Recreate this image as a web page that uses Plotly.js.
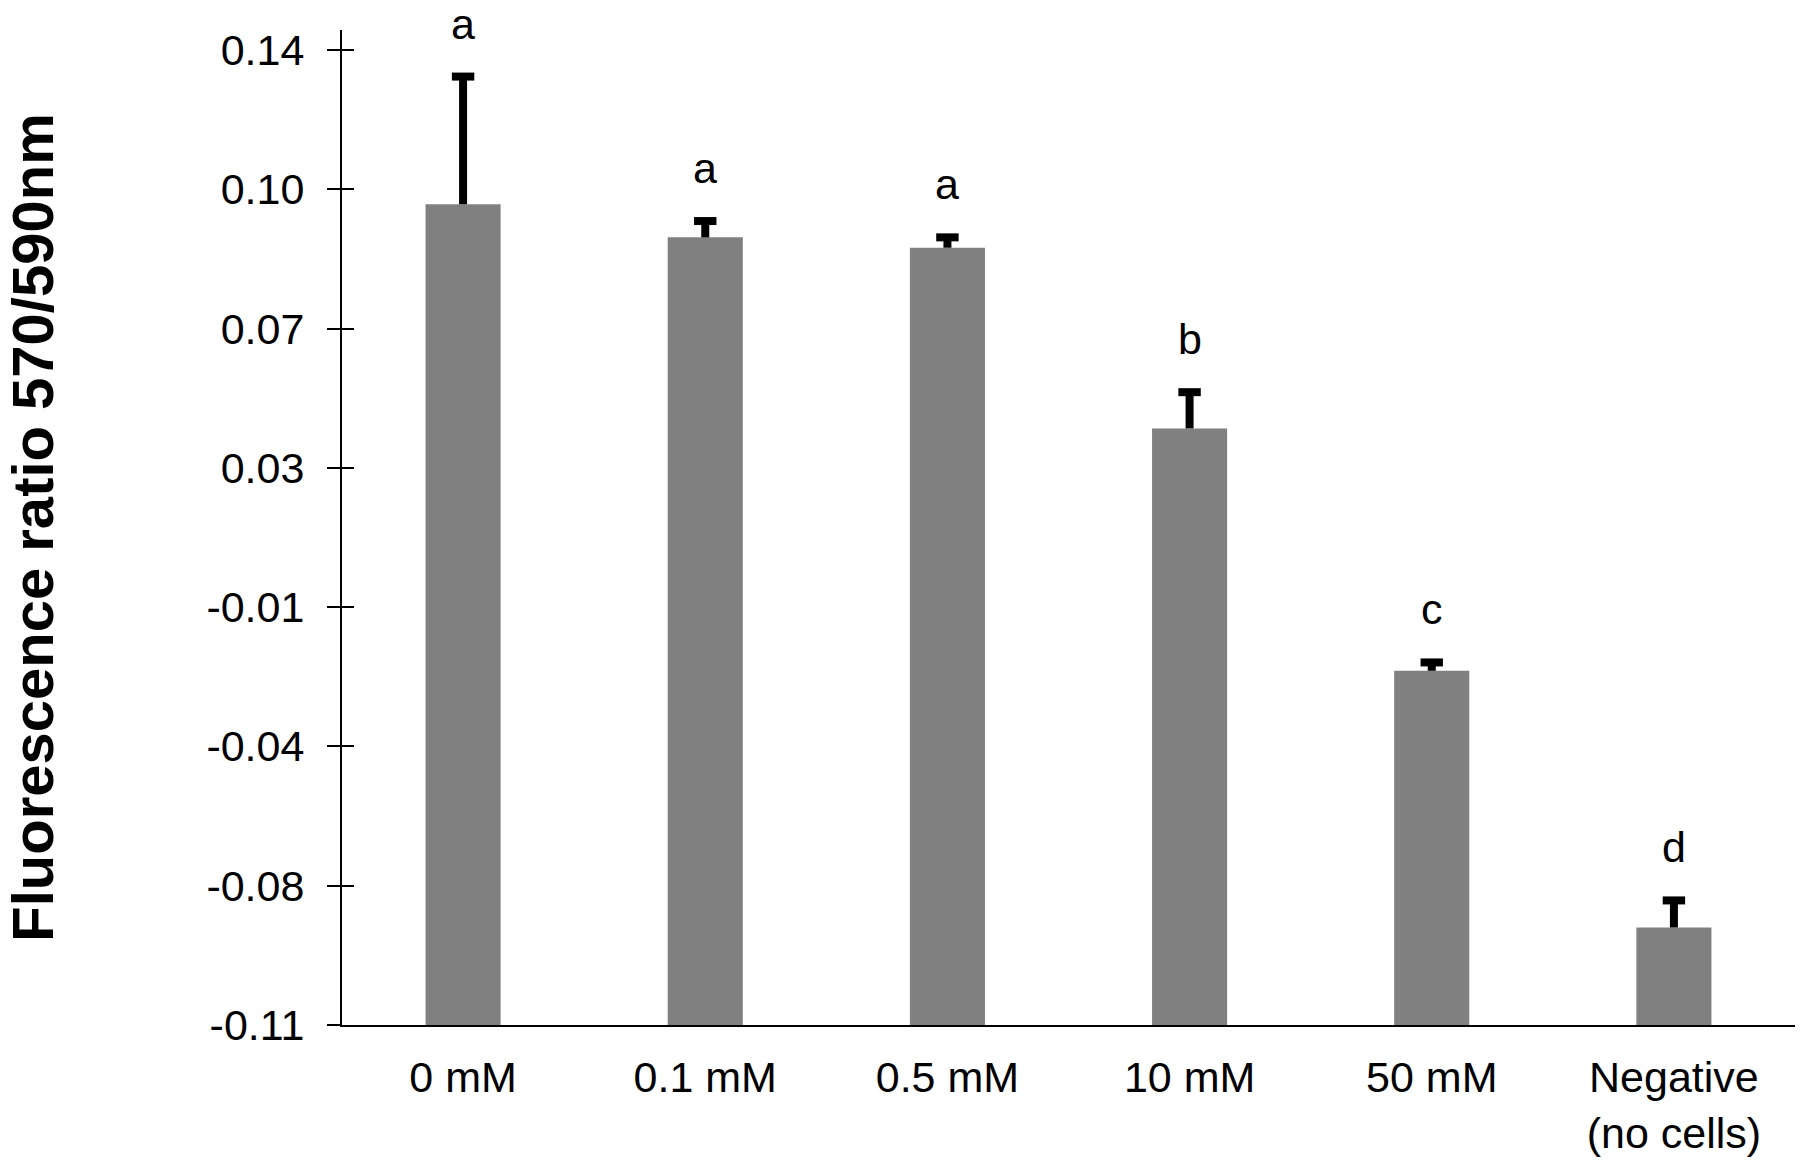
<!DOCTYPE html>
<html>
<head>
<meta charset="utf-8">
<script src="https://cdn.plot.ly/plotly-3.0.1.min.js"></script>
<style>html,body{margin:0;padding:0;background:#fff;}#chart{width:1800px;height:1161px;}</style>
</head>
<body>
<div id="chart"></div>
<script>
// Data
const categories = ["0 mM", "0.1 mM", "0.5 mM", "10 mM", "50 mM", "Negative<br>(no cells)"];
const values = [0.0962, 0.0879, 0.0853, 0.0399, -0.0210, -0.0855];
const errors = [0.0321, 0.0041, 0.0026, 0.0091, 0.0021, 0.0068];
const letters = ["a", "a", "a", "b", "c", "d"];
const tickValues = [-0.11, -0.075, -0.04, -0.005, 0.03, 0.065, 0.10, 0.135];
const tickLabels = ["-0.11", "-0.08", "-0.04", "-0.01", "0.03", "0.07", "0.10", "0.14"];
const axisMin = -0.11;
const axisMax = 0.14;

const FONT = "Liberation Sans, Arial, sans-serif";

const errTops = values.map((v, i) => v + errors[i]);

const barTrace = {
  type: "bar",
  x: categories,
  base: categories.map(() => axisMin),
  y: values.map(v => v - axisMin),
  marker: {color: "#808080", line: {width: 0}},
  width: 0.31,
  error_y: {
    type: "data",
    symmetric: false,
    array: errors,
    arrayminus: errors.map(() => 0),
    color: "#000000",
    thickness: 8,
    width: 0
  },
  hoverinfo: "skip",
  showlegend: false
};

// caps drawn only at the top end of each error bar
const capTrace = {
  type: "scatter",
  mode: "markers",
  x: categories,
  y: errTops,
  marker: {symbol: "line-ew", size: 16, color: "#000", line: {width: 8, color: "#000"}},
  hoverinfo: "skip",
  showlegend: false,
  cliponaxis: false
};

// invisible trace so the inner-tick overlay axis is drawn
const overlayTrace = {
  type: "scatter",
  mode: "markers",
  x: categories,
  y: values,
  yaxis: "y2",
  marker: {opacity: 0},
  hoverinfo: "skip",
  showlegend: false
};

const annotations = categories.map((c, i) => ({
  x: c,
  y: errTops[i],
  xref: "x",
  yref: "y",
  text: letters[i],
  showarrow: false,
  yanchor: "bottom",
  yshift: 27,
  font: {family: FONT, size: 43, color: "#000"}
}));

const layout = {
  width: 1800,
  height: 1161,
  paper_bgcolor: "#ffffff",
  plot_bgcolor: "#ffffff",
  margin: {l: 342, r: 5, t: 30, b: 136, pad: 0},
  bargap: 0.69,
  showlegend: false,
  font: {family: FONT, size: 43, color: "#000"},
  xaxis: {
    type: "category",
    showline: true,
    linecolor: "#000",
    linewidth: 2,
    ticks: "",
    showgrid: false,
    zeroline: false,
    tickfont: {family: FONT, size: 43, color: "#000"},
    ticklabelstandoff: 13,
    automargin: false
  },
  yaxis: {
    range: [axisMin, axisMax],
    tickmode: "array",
    tickvals: tickValues,
    ticktext: tickLabels,
    showline: true,
    linecolor: "#000",
    linewidth: 2,
    ticks: "outside",
    ticklen: 13,
    tickwidth: 2,
    tickcolor: "#000",
    showgrid: false,
    zeroline: false,
    tickfont: {family: FONT, size: 43, color: "#000"},
    ticklabelstandoff: 14,
    automargin: false,
    title: {
      text: "Fluorescence ratio 570/590nm",
      font: {family: FONT, size: 58, color: "#000", weight: 700},
      standoff: 140
    }
  },
  yaxis2: {
    overlaying: "y",
    side: "left",
    range: [axisMin, axisMax],
    tickmode: "array",
    tickvals: tickValues,
    ticktext: tickLabels.map(() => ""),
    showticklabels: false,
    showline: false,
    ticks: "inside",
    ticklen: 12,
    tickwidth: 2,
    tickcolor: "#000",
    showgrid: false,
    zeroline: false
  },
  annotations: annotations
};

Plotly.newPlot("chart", [barTrace, capTrace, overlayTrace], layout, {displayModeBar: false, staticPlot: true});
</script>
</body>
</html>
